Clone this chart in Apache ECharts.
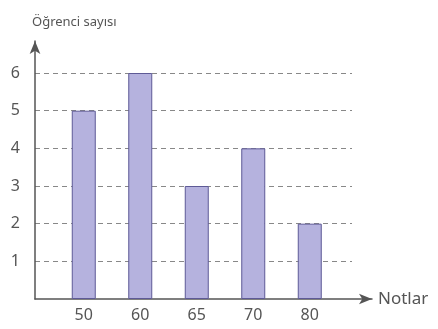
<!DOCTYPE html>
<html>
<head>
<meta charset="utf-8">
<script src="https://cdn.jsdelivr.net/npm/echarts@6/dist/echarts.min.js"></script>
<style>html,body{margin:0;padding:0;background:#fff}#c{width:438px;height:329px}</style>
</head>
<body>
<div id="c"></div>
<script>
const categories = ['50', '60', '65', '70', '80'];
const counts = [5, 6, 3, 4, 2];
const yName = 'Öğrenci sayısı';
const xName = 'Notlar';

const font = 'Noto Sans';
const textColor = '#555';
const yMax = 6.85;
const chart = echarts.init(document.getElementById('c'));
chart.setOption({
  animation: false,
  grid: [
    { left: 35, top: 41, width: 317, height: 258 },
    { left: 35, top: 41, width: 337, height: 258 },
    { left: 55.5, top: 41, width: 282.5, height: 258 }
  ],
  xAxis: [
    { gridIndex: 0, type: 'value', show: false },
    { gridIndex: 1, type: 'value', min: 0, max: 1,
      name: xName, nameLocation: 'end', nameGap: 6,
      nameTextStyle: { fontFamily: font, fontSize: 17, color: textColor },
      axisLine: { show: true, symbol: ['none', 'arrow'], symbolSize: [8, 13], lineStyle: { color: '#555', width: 1.5 } },
      axisTick: { show: false }, axisLabel: { show: false }, splitLine: { show: false } },
    { gridIndex: 2, type: 'category', data: categories,
      axisLine: { show: false }, axisTick: { show: false },
      axisLabel: { margin: 8, fontFamily: font, fontSize: 16, color: textColor } }
  ],
  yAxis: [
    { gridIndex: 0, type: 'value', min: 0, max: yMax, interval: 1,
      name: yName, nameLocation: 'end', nameGap: 12,
      nameTextStyle: { fontFamily: font, fontSize: 13, color: textColor, align: 'left', padding: [0, 0, 0, -3] },
      axisLine: { show: true, symbol: ['none', 'arrow'], symbolSize: [8, 13], lineStyle: { color: '#555', width: 1.5 } },
      axisTick: { show: false },
      axisLabel: { margin: 15, fontFamily: font, fontSize: 16, color: textColor, showMaxLabel: false, showMinLabel: false },
      splitLine: { show: true, showMaxLine: false, showMinLine: false, lineStyle: { type: [5, 4], color: '#888', width: 1 } } },
    { gridIndex: 1, type: 'value', show: false },
    { gridIndex: 2, type: 'value', min: 0, max: yMax, show: false }
  ],
  series: [{
    type: 'bar', xAxisIndex: 2, yAxisIndex: 2, data: counts, barWidth: 24,
    itemStyle: { color: '#b5b2de', borderColor: '#5e5a96', borderWidth: 1 }
  }]
});
</script>
</body>
</html>
